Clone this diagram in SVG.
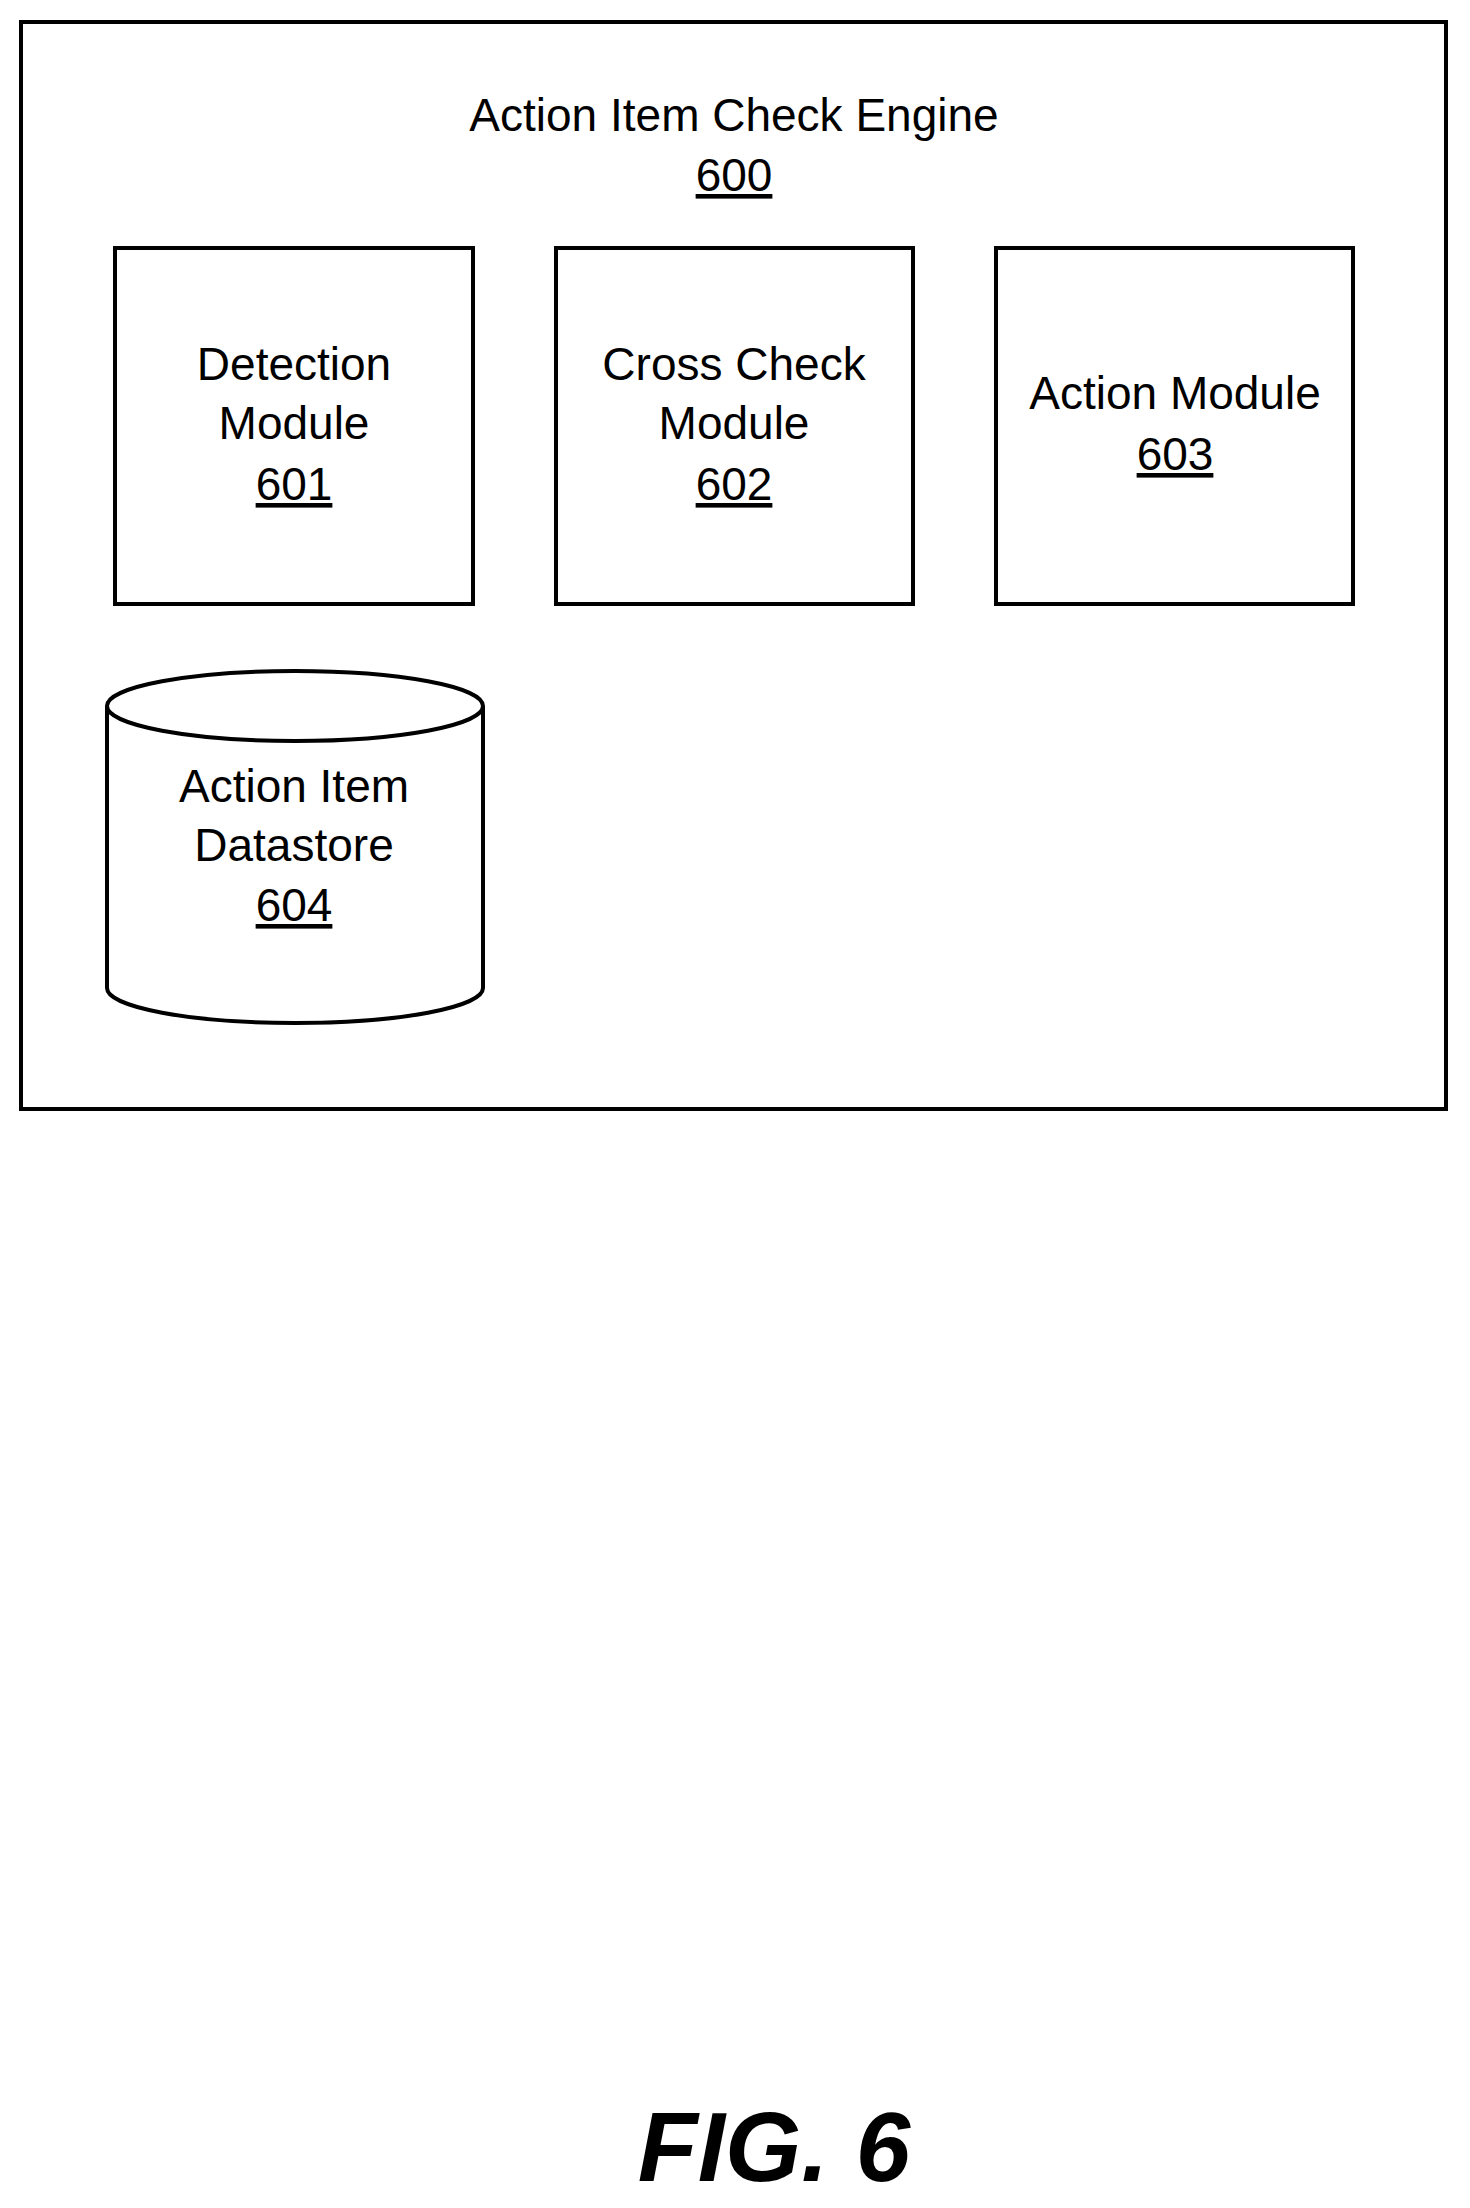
<svg xmlns="http://www.w3.org/2000/svg" width="1470" height="2208" viewBox="0 0 1470 2208">
<style>
.b{fill:#fff;stroke:#000;stroke-width:4}
.t{font-family:"Liberation Sans",Arial,sans-serif;font-size:46px;text-anchor:middle;fill:#000}
.u{text-decoration:underline}
</style>
<rect width="1470" height="2208" fill="#fff"/>
<g id="engine">
<rect class="b" x="21" y="22" width="1425" height="1087"/>
<text class="t" x="734" y="131">Action Item Check Engine</text>
<text class="t u" x="734" y="191">600</text>
</g>
<g id="n601">
<rect class="b" x="115" y="248" width="358" height="356"/>
<text class="t" x="294" y="380">Detection</text>
<text class="t" x="294" y="439">Module</text>
<text class="t u" x="294" y="500">601</text>
</g>
<g id="n602">
<rect class="b" x="556" y="248" width="357" height="356"/>
<text class="t" x="734" y="380">Cross Check</text>
<text class="t" x="734" y="439">Module</text>
<text class="t u" x="734" y="500">602</text>
</g>
<g id="n603">
<rect class="b" x="996" y="248" width="357" height="356"/>
<text class="t" x="1175" y="409">Action Module</text>
<text class="t u" x="1175" y="470">603</text>
</g>
<g id="n604">
<path class="b" d="M107 706 L107 988 A188 35 0 0 0 483 988 L483 706"/>
<ellipse class="b" cx="295" cy="706" rx="188" ry="35"/>
<text class="t" x="294" y="802">Action Item</text>
<text class="t" x="294" y="861">Datastore</text>
<text class="t u" x="294" y="921">604</text>
</g>
<g id="connectors"></g>
<text x="774" y="2181" style="font-family:'Liberation Sans',Arial,sans-serif;font-size:98px;font-weight:bold;font-style:italic;text-anchor:middle">FIG. 6</text>
</svg>
